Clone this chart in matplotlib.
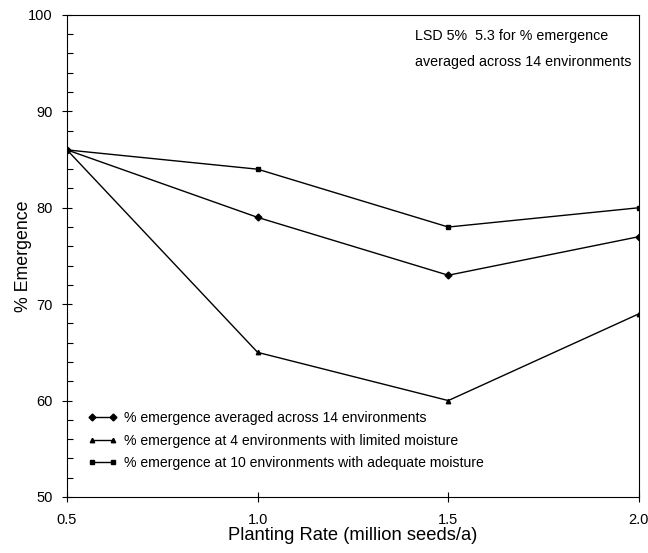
import matplotlib
matplotlib.use("Agg")
import matplotlib.pyplot as plt
from matplotlib.ticker import MultipleLocator

plt.rcParams['font.family'] = ['Liberation Sans', 'DejaVu Sans']

rates = [0.5, 1.0, 1.5, 2.0]
avg_14 = [86, 79, 73, 77]
limited_4 = [86, 65, 60, 69]
adequate_10 = [86, 84, 78, 80]
labels = ["% emergence averaged across 14 environments",
          "% emergence at 4 environments with limited moisture",
          "% emergence at 10 environments with adequate moisture"]
xticks = [0.5, 1.0, 1.5, 2.0]
xticklabels = ["0.5", "1.0", "1.5", "2.0"]
yticks = [50, 60, 70, 80, 90, 100]

fig = plt.figure(figsize=(6.48, 5.53), dpi=100)
ax = fig.add_axes([0.1034, 0.1013, 0.8826, 0.8717])

ax.plot(rates, avg_14, color='black', lw=1.0, marker='D', ms=3.5, label=labels[0])
ax.plot(rates, limited_4, color='black', lw=1.0, marker='^', ms=3.2, label=labels[1])
ax.plot(rates, adequate_10, color='black', lw=1.0, marker='s', ms=3.5, label=labels[2])

ax.set_xlim(0.5, 2.0)
ax.set_ylim(50, 100)
ax.set_xticks(xticks)
ax.set_xticklabels(xticklabels)
ax.set_yticks(yticks)
ax.yaxis.set_minor_locator(MultipleLocator(2))
ax.tick_params(axis='both', which='major', direction='inout', length=7, width=0.8, labelsize=10.5)
ax.tick_params(axis='y', which='minor', direction='in', length=4, width=0.8)
ax.tick_params(axis='x', which='major', pad=8)
ax.tick_params(axis='y', which='major', pad=7)
for s in ax.spines.values():
    s.set_linewidth(0.8)

ax.set_xlabel("Planting Rate (million seeds/a)", fontsize=13.2, labelpad=0)
ax.set_ylabel("% Emergence", fontsize=12.8, labelpad=-3)

ax.text(0.608, 0.97, "LSD 5%  5.3 for % emergence\naveraged across 14 environments",
        transform=ax.transAxes, ha='left', va='top', fontsize=10.3, linespacing=2.1)

leg = ax.legend(loc='lower left', bbox_to_anchor=(0.027, 0.045), frameon=False, fontsize=10.1,
                numpoints=2, handlelength=2.1, handletextpad=0.45, labelspacing=0.58,
                borderaxespad=0)

fig.savefig("out.png", dpi=100)
